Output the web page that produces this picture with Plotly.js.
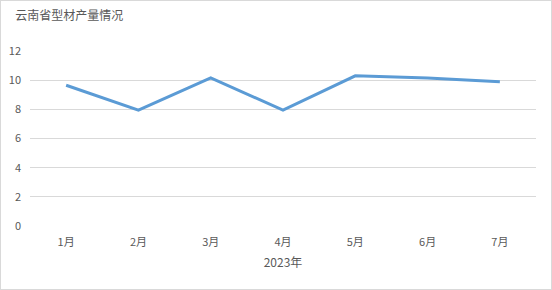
<!DOCTYPE html>
<html><head><meta charset="utf-8">
<script src="https://cdn.plot.ly/plotly-3.0.1.min.js"></script>
<style>
html,body{margin:0;padding:0;background:#fff;}
#chart{width:552px;height:290px;box-sizing:border-box;border:1px solid #d9d9d9;}
</style></head>
<body><div id="chart"></div>
<script>
const months = ["1月","2月","3月","4月","5月","6月","7月"];
const output = [9.65, 7.95, 10.15, 7.95, 10.3, 10.15, 9.9];
const yTicks = [0,2,4,6,8,10,12];
const titleText = "云南省型材产量情况";
const xTitle = "2023年";

const font = "'Microsoft YaHei','Noto Sans CJK SC',sans-serif";
Plotly.newPlot("chart", [{
  x: months, y: output, type: "scatter", mode: "lines",
  line: {color: "#5B9BD5", width: 3}
}], {
  width: 550, height: 288,
  margin: {l: 29, r: 15, t: 50, b: 63},
  paper_bgcolor: "#fff", plot_bgcolor: "#fff",
  showlegend: false,
  title: {text: titleText, x: 0.026, xanchor: "left", y: 0.95, yanchor: "middle",
          font: {family: font, size: 12, color: "#595959"}},
  xaxis: {type: "category", range: [-0.5, 6.5], showgrid: false, zeroline: false, showline: false,
          ticks: "", ticklabelstandoff: 8, tickfont: {family: font, size: 11, color: "#595959"},
          title: {text: xTitle, standoff: 10, font: {family: font, size: 12, color: "#595959"}}},
  yaxis: {range: [0, 12], tickvals: yTicks, showgrid: true, gridcolor: "#d9d9d9", gridwidth: 1,
          zeroline: false, showline: false, ticks: "", ticklabelstandoff: 8,
          tickfont: {family: font, size: 11, color: "#595959"}}
}, {displayModeBar: false, staticPlot: true});
</script></body></html>
